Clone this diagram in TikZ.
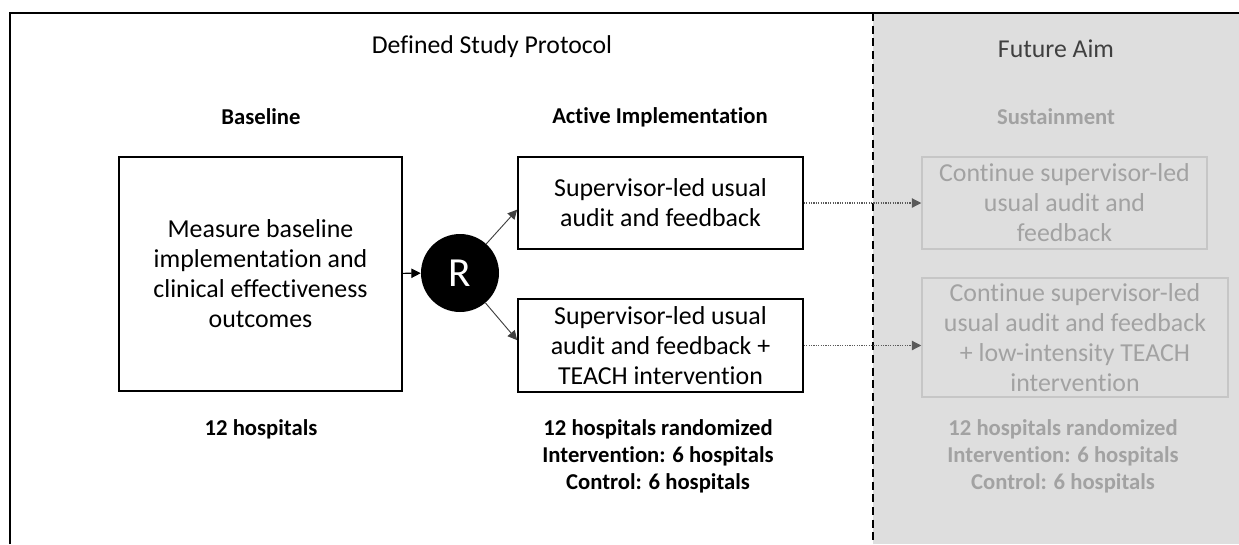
\documentclass[tikz,border=0pt]{standalone}
\usepackage{fontspec}
\setmainfont[Ligatures=NoCommon]{Carlito}
\usetikzlibrary{arrows.meta}
\definecolor{futuregrey}{HTML}{DEDEDE}
\definecolor{boxgrey}{HTML}{C6C6C6}
\definecolor{textgrey}{HTML}{A2A2A2}
\definecolor{darkgrey}{HTML}{404040}
\definecolor{arrowgrey}{HTML}{5A5A5A}

\begin{document}
\begin{tikzpicture}[x=0.75pt,y=-0.75pt,
    box/.style={draw,line width=1.3pt,inner sep=0pt,align=center,font=\fontsize{19.4}{22.5}\selectfont},
    greybox/.style={draw=boxgrey,line width=1.1pt,inner sep=0pt,align=center,text=textgrey,font=\fontsize{19.4}{22.5}\selectfont},
    phase/.style={align=center,font=\fontsize{17}{20.3}\selectfont\bfseries},
    title/.style={font=\fontsize{19.3}{22}\selectfont},
    arr/.style={-{Triangle[length=7pt,width=7pt]}},
    dotarr/.style={densely dotted,arrowgrey,line width=0.8pt,-{Triangle[length=7pt,width=7pt]}}]
          \useasboundingbox (0,0) rectangle (1239,544);
          \fill[futuregrey] (873,13) rectangle (1239,544);
          \draw[line width=1.5pt] (10,544) -- (10,13) -- (1239,13);
          \draw[line width=1.8pt,dash pattern=on 6pt off 3.5pt] (873,13) -- (873,544);

          \node[title] (protocol) at (492,47) {Defined Study Protocol};
          \node[title,text=darkgrey] (future) at (1056,49) {Future Aim};
          \node[phase] (baselinelbl) at (261,117) {Baseline};
          \node[phase] (activelbl) at (660,117) {Active Implementation};
          \node[phase,text=textgrey] (sustainlbl) at (1056,117) {Sustainment};

          \node[box,minimum width=212.25pt,minimum height=175.5pt] (base) at (260.5,274) {Measure baseline\\implementation and\\clinical effectiveness\\outcomes};
          \node[circle,fill=black,text=white,minimum size=58.5pt,inner sep=0pt,font=\fontsize{31}{34}\selectfont] (R) at (460,273) {R};
          \node[box,minimum width=213.75pt,minimum height=69pt] (act1) at (660.5,203) {Supervisor-led usual\\audit and feedback};
          \node[box,minimum width=213.75pt,minimum height=69.75pt] (act2) at (660.5,345.5) {Supervisor-led usual\\audit and feedback +\\TEACH intervention};
          \node[greybox,minimum width=213.75pt,minimum height=69pt] (sus1) at (1064.5,203) {Continue supervisor-led\\usual audit and\\feedback};
          \node[greybox,minimum width=229.5pt,minimum height=89.25pt] (sus2) at (1075,337.5) {Continue supervisor-led\\usual audit and feedback\\+ low-intensity TEACH\\intervention};

          \node[phase] (basecount) at (261,429) {12 hospitals};
          \node[phase] (actcount) at (658,456) {12 hospitals randomized\\Intervention: 6 hospitals\\Control: 6 hospitals};
          \node[phase,text=textgrey] (suscount) at (1063,456) {12 hospitals randomized\\Intervention: 6 hospitals\\Control: 6 hospitals};

          \draw[arr,line width=0.8pt] (base) -- (R);
          \draw[arr,darkgrey,line width=0.7pt] (R) -- ([yshift=-5pt]act1.west);
          \draw[arr,darkgrey,line width=0.7pt] (R) -- ([yshift=4pt]act2.west);
          \draw[dotarr] (act1) -- (sus1);
          \draw[dotarr] (act2.east) -- (act2.east -| sus2.west);
        \end{tikzpicture}
\end{document}
